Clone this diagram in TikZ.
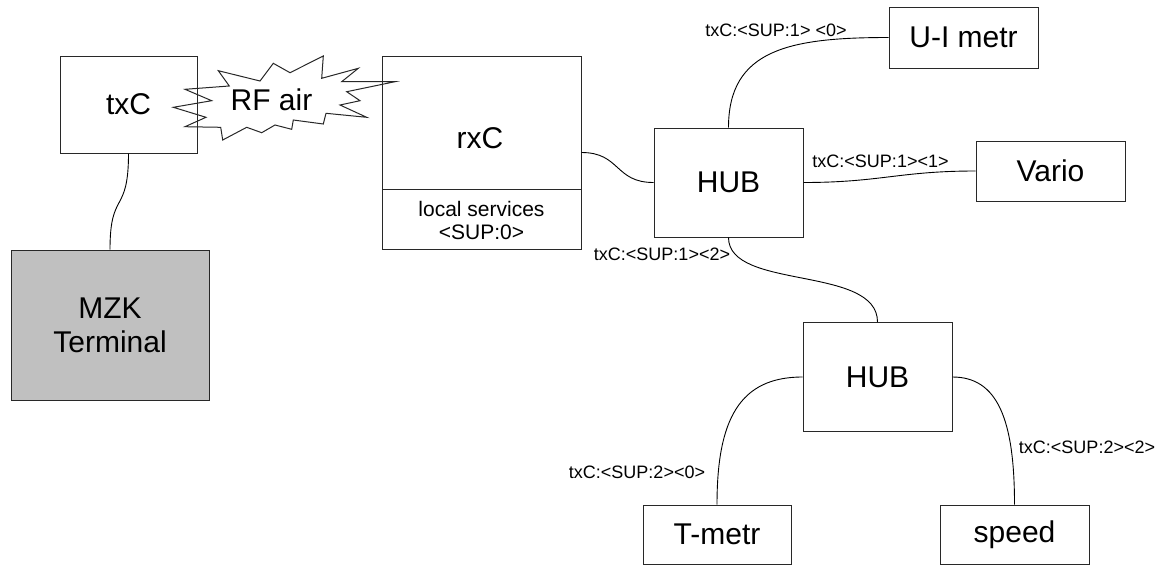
\documentclass[tikz,border=0pt]{standalone}
\usepackage{fontspec}
\setmainfont{Liberation Sans}
\usetikzlibrary{calc}
\definecolor{linec}{RGB}{40,40,40}
\definecolor{termfill}{RGB}{192,192,192}
\newcommand\bigf{\fontsize{30}{34}\selectfont}
\newcommand\labf{\fontsize{18}{21}\selectfont}
\newcommand\locf{\fontsize{21}{23}\selectfont}
\begin{document}
\begin{tikzpicture}[x=1pt,y=-1pt,
  box/.style={draw=linec,line width=1pt,inner sep=0pt,font=\bigf,align=center},
  conn/.style={draw=black,line width=0.9pt},
  lab/.style={font=\labf,inner sep=0pt}]
\useasboundingbox (0,0) rectangle (1158,565);
% RF air starburst
\draw[line width=1pt,draw=linec,fill=white]
  (185,89.3) -- (229.3,86) -- (218.3,70.7) -- (260,81) -- (273.3,63.3) -- (290,72.7)
  -- (323.3,56) -- (321.7,78.3) -- (358.3,68.3) -- (341.7,81.7) -- (395,81.7)
  -- (346.7,91.7) -- (360,100.7) -- (340,105) -- (366.7,117.3) -- (326,113.3)
  -- (323.3,124) -- (293.3,120) -- (291.7,129.3) -- (275,125) -- (261.7,132.7)
  -- (246.7,127.3) -- (222.7,140) -- (220.7,127.3) -- (185,126.7) -- (206,117.3)
  -- (173.3,107.3) -- (211.7,100.7) -- cycle;
\node[font=\bigf,inner sep=0pt] (rf) at (271.5,100) {RF air};
% boxes
\node[box,minimum width=137pt,minimum height=97pt] (txc) at (128.5,104.5) {txC};
\node[box,fill=termfill,minimum width=198pt,minimum height=150pt] (mzk) at (110,325) {MZK\\Terminal};
\node[box,minimum width=199pt,minimum height=193pt] (rxc) at (481.5,152.5) {};
\coordinate (divl) at (382,189);
\coordinate (divr) at (581,189);
\draw[draw=linec,line width=1pt] (divl) -- (divr);
\node[font=\bigf,inner sep=0pt] (rxct) at (480,138) {rxC};
\node[font=\locf,inner sep=0pt,align=center] (loc) at (481.5,220) {local services\\\textless SUP:0\textgreater};
\node[box,minimum width=149pt,minimum height=109pt] (hub1) at (728.5,182.5) {HUB};
\node[box,minimum width=149pt,minimum height=61pt] (ui) at (963.5,37.5) {U-I metr};
\node[box,minimum width=149pt,minimum height=60pt] (vario) at (1050.5,171) {Vario};
\node[box,minimum width=149pt,minimum height=109pt] (hub2) at (877.5,377) {HUB};
\node[box,minimum width=148pt,minimum height=59pt] (tmetr) at (717,534.5) {T-metr};
\node[box,minimum width=149pt,minimum height=59pt] (speed) at (1014.5,534.5) {speed};
% connectors
\draw[conn] (txc.south) .. controls +(0,62) and +(0,-60) .. (mzk.north);
\draw[conn] (rxc.east) .. controls +(39,0) and +(-39,0) .. (hub1.west);
\draw[conn] (hub1.north) .. controls +(0,-78) and +(-99,0) .. (ui.west);
\draw[conn] (hub1.east) .. controls +(77,0) and +(-76,0) .. (vario.west);
\draw[conn] (hub1.south) .. controls +(0,53) and +(0,-57) .. (hub2.north);
\draw[conn] (hub2.west) .. controls +(-63,0) and +(0,-85) .. (tmetr.north);
\draw[conn] (hub2.east) .. controls +(45,0) and +(0,-85) .. (speed.north);
% labels
\node[lab] (l1) at (776,30) {txC:\textless SUP:1\textgreater{} \textless 0\textgreater};
\node[lab] (l2) at (880.5,161) {txC:\textless SUP:1\textgreater\textless 1\textgreater};
\node[lab] (l3) at (662,254) {txC:\textless SUP:1\textgreater\textless 2\textgreater};
\node[lab] (l4) at (637,472) {txC:\textless SUP:2\textgreater\textless 0\textgreater};
\node[lab] (l5) at (1087,447) {txC:\textless SUP:2\textgreater\textless 2\textgreater};
\end{tikzpicture}
\end{document}
